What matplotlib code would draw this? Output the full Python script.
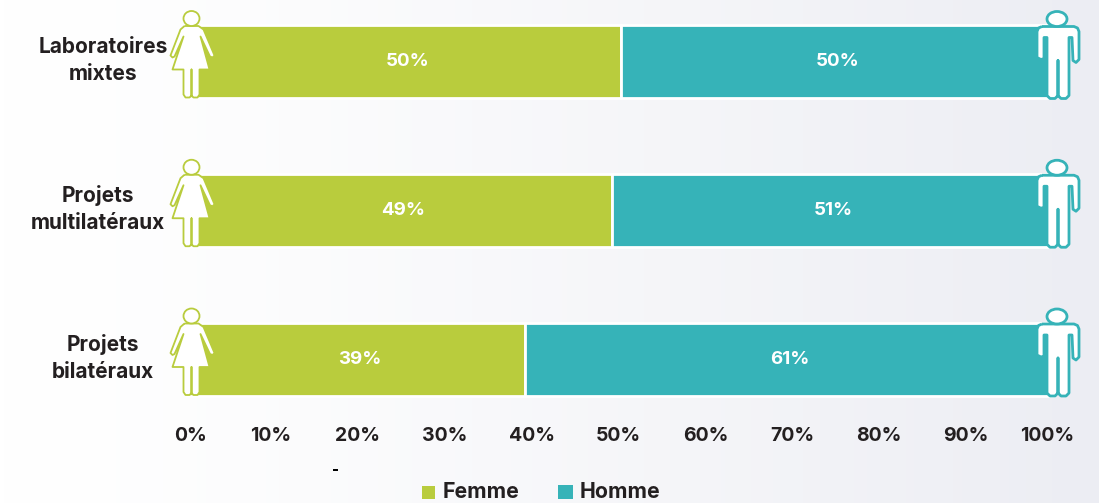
import numpy as np
import matplotlib
matplotlib.use("Agg")
from matplotlib import pyplot as plt
from matplotlib.path import Path
from matplotlib.patches import PathPatch, Ellipse, Rectangle
from matplotlib.transforms import Affine2D

# Data
categories = ["Laboratoires\nmixtes", "Projets\nmultilatéraux", "Projets\nbilatéraux"]
femme = [50, 49, 39]
homme = [50, 51, 61]
ticks = [0, 10, 20, 30, 40, 50, 60, 70, 80, 90, 100]

GREEN = "#B9CC3D"
TEAL = "#36B3B8"
DARK = "#231F20"
W, H = 1099, 503

plt.rcParams["font.family"] = ["Inter", "DejaVu Sans"]
plt.rcParams["font.weight"] = "bold"

fig = plt.figure(figsize=(W / 100, H / 100), dpi=100)

# Background gradient, white on the left to pale lavender on the right
bg = fig.add_axes([0, 0, 1, 1], zorder=0)
bg.axis("off")
grad = np.ones((1, 256, 3))
ramp = np.linspace(0, 1, 256) ** 1.3
grad[0, :, 0] = 1 - ramp * (1 - 0xEC / 255)
grad[0, :, 1] = 1 - ramp * (1 - 0xED / 255)
grad[0, :, 2] = 1 - ramp * (1 - 0xF3 / 255)
bg.imshow(grad, aspect="auto", extent=[0, 1, 0, 1])

# Axes: x 0..100 covers px 186..1055, categories 148.75 px apart from y=61.5
ax = fig.add_axes([186 / W, 1 - 420 / H, 869 / W, 420 / H], zorder=1)
ax.patch.set_alpha(0)
ax.set_xlim(0, 100)
ax.set_ylim((420 - 61.5) / 148.75, -61.5 / 148.75)
for s in ax.spines.values():
    s.set_visible(False)
ax.set_xticks([])
ax.set_yticks([])

y = np.arange(len(categories))
bar_h = 73 / 148.75
ax.barh(y, femme, height=bar_h, color=GREEN, edgecolor="white", linewidth=2)
ax.barh(y, homme, left=femme, height=bar_h, color=TEAL, edgecolor="white", linewidth=2)

# Category labels are not aligned on a common centre in the source
label_x = [103, 98, 103]
for i, cat in enumerate(categories):
    ax.text(femme[i] / 2 + 0.5, i, f"{femme[i]}%", color="white", ha="center", va="center", fontsize=13.5)
    ax.text(femme[i] + homme[i] / 2, i, f"{homme[i]}%", color="white", ha="center", va="center", fontsize=13.5)
    ax.annotate(cat, (0, i), xytext=((label_x[i] - 186) * 0.72, 1), textcoords="offset points",
                ha="center", va="center", fontsize=15, color=DARK, linespacing=1.45,
                annotation_clip=False)

# Tick labels, the two end ones are pulled inwards
for t in ticks:
    shift = {0: 3, 100: -5.5}.get(t, -1.5)
    ax.annotate(f"{t}%", (t, y[-1]), xycoords=("data", "data"), xytext=(shift, -55.5),
                textcoords="offset points", ha="center", va="center", fontsize=14,
                color=DARK, annotation_clip=False)


def polyline(points):
    codes = [Path.MOVETO] + [Path.LINETO] * (len(points) - 1)
    return Path(points, codes)


# Outlines in pixels, relative to the bar centre, y going down
woman = [(-7, -35.5), (7, -35.5), (12, -32), (23, -6), (21, -4), (18.5, -5), (9, -25),
         (18, 8), (8, 8), (8, 33), (6, 36), (2, 36), (0, 34), (0, 8), (0, 34),
         (-2, 36), (-6, 36), (-8, 33), (-8, 8), (-19, 8), (-8, -25), (-17, -5), (-19, -4),
         (-21, -6), (-11, -32), (-7, -35.5)]
man = [(-16, -35), (16, -35), (19.5, -33.5), (21, -30), (21, -2), (18, 1), (15, -1), (14, -24),
       (11, -24), (11, 34), (8, 37), (3, 37), (0, 34), (0, -1), (0, 34), (-3, 37), (-8, 37), (-11, 34),
       (-11, -24), (-14, -24), (-14, -3), (-17, -2), (-21, -4), (-21, -30), (-19.5, -33.5), (-16, -35)]


def draw_icon(outline, x_px, cat, head, color, lw):
    cy = ax.transData.transform((0, cat))[1]
    tr = Affine2D().scale(1, -1).translate(x_px, cy)
    fig.add_artist(PathPatch(polyline(outline), facecolor="white", edgecolor=color, lw=lw,
                             joinstyle="round", transform=tr, zorder=5))
    fig.add_artist(Ellipse(head[:2], head[2], head[3], facecolor="white", edgecolor=color, lw=lw,
                           transform=tr, zorder=5))


for i in y:
    draw_icon(woman, 191.5, i, (0, -43, 16, 15), GREEN, 1.3)
    draw_icon(man, 1058, i, (-1, -42.5, 20, 15), TEAL, 2.0)

# Legend
fig.add_artist(Rectangle((422 / W, 1 - 499 / H), 13 / W, 13 / H, facecolor=GREEN, transform=fig.transFigure))
fig.add_artist(Rectangle((558 / W, 1 - 499 / H), 15 / W, 14 / H, facecolor=TEAL, transform=fig.transFigure))
fig.text(481 / W, 1 - 492.5 / H, "Femme", ha="center", va="center", fontsize=15.3, color=DARK)
fig.text(619.5 / W, 1 - 492.5 / H, "Homme", ha="center", va="center", fontsize=15.3, color=DARK)

# Stray dash under the 20% label
fig.add_artist(Rectangle((333 / W, 1 - 471 / H), 5 / W, 2 / H, facecolor="black", transform=fig.transFigure))

fig.savefig("out.png", dpi=100)
